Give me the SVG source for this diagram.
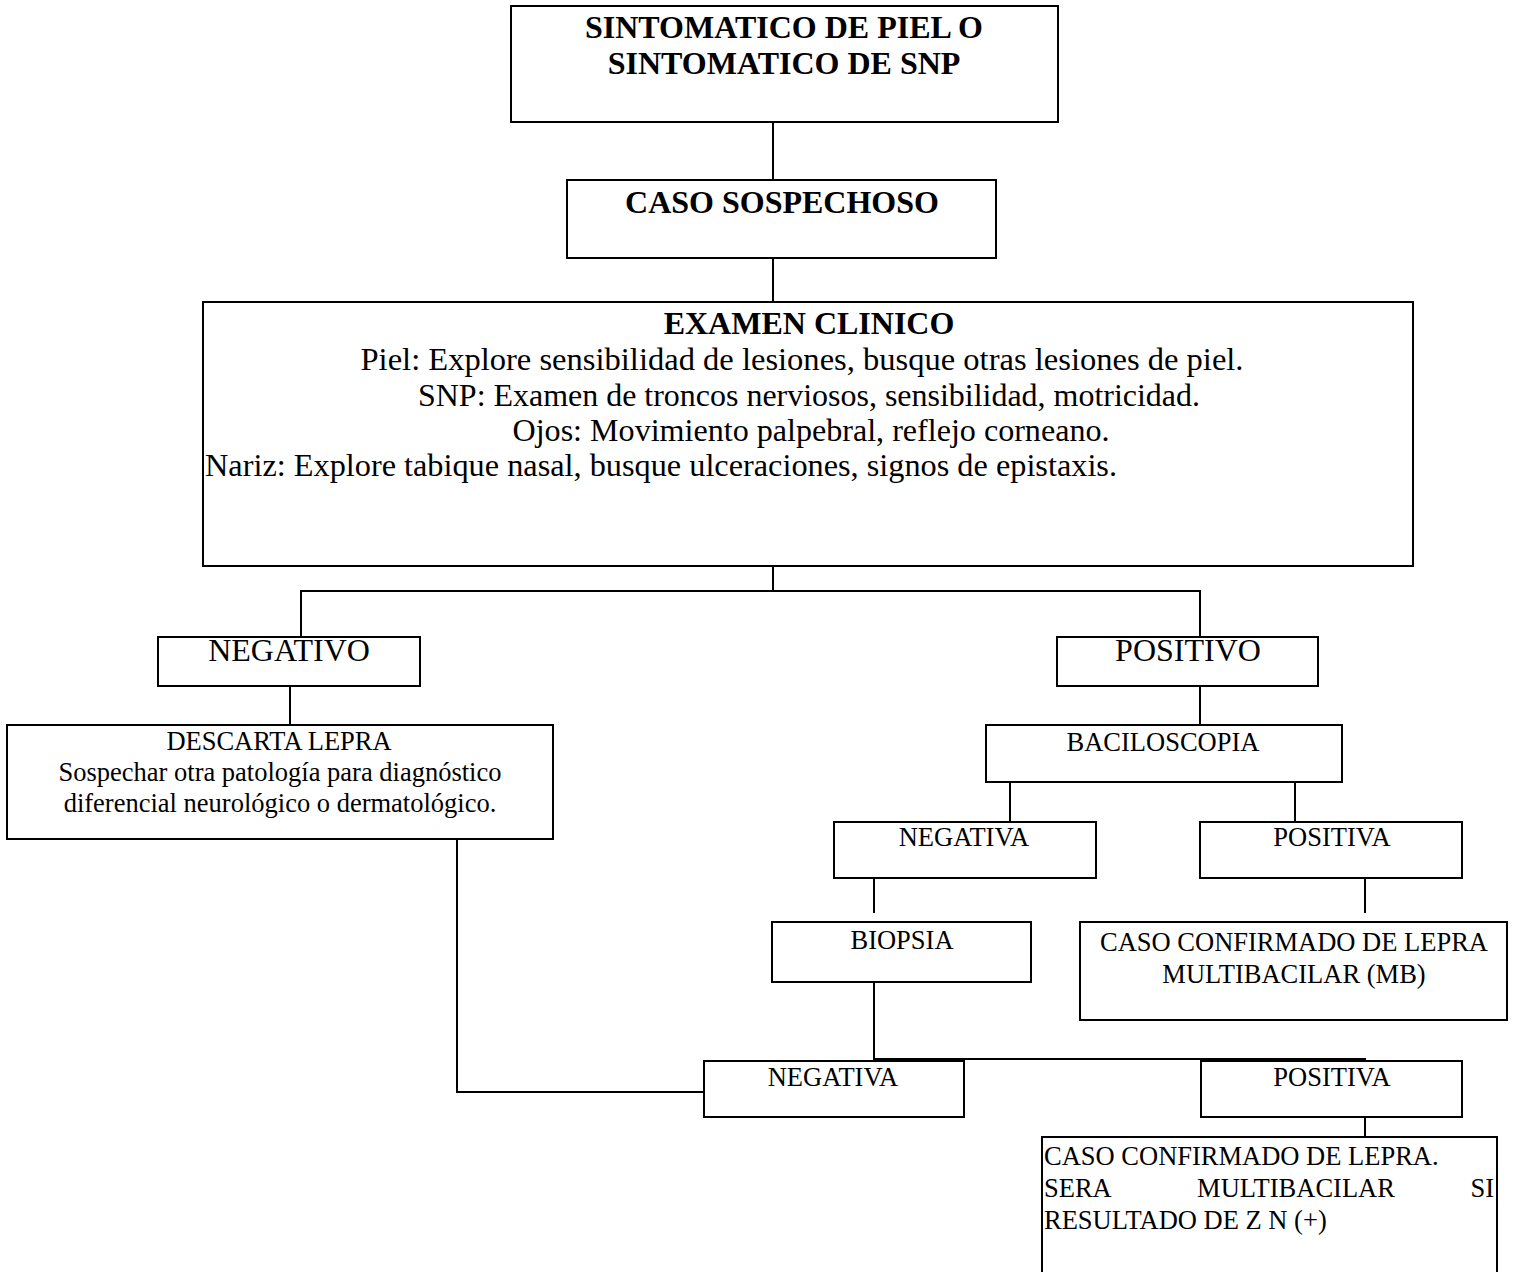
<svg xmlns="http://www.w3.org/2000/svg" width="1514" height="1272" viewBox="0 0 1514 1272">
  <style>
    .box { fill: #ffffff; stroke: #000000; stroke-width: 2; }
    .wire { fill: none; stroke: #000000; stroke-width: 2; }
    text { font-family: "Liberation Serif", "Times New Roman", serif; fill: #000000; }
    .big { font-size: 32px; font-weight: bold; text-anchor: middle; }
    .body { font-size: 32px; text-anchor: middle; }
    .lbl { font-size: 32px; text-anchor: middle; }
    .sm { font-size: 26.5px; text-anchor: middle; }
    .left { font-size: 26.5px; }
  </style>
  <rect width="1514" height="1272" fill="#ffffff"/>

  <!-- connectors -->
  <g id="connectors">
    <line class="wire" x1="773" y1="122" x2="773" y2="180"/>
    <line class="wire" x1="773" y1="258" x2="773" y2="302"/>
    <line class="wire" x1="773" y1="566" x2="773" y2="591"/>
    <polyline class="wire" points="301,637 301,591 1200,591 1200,637"/>
    <line class="wire" x1="290" y1="686" x2="290" y2="725"/>
    <line class="wire" x1="1200" y1="686" x2="1200" y2="725"/>
    <line class="wire" x1="1010" y1="782" x2="1010" y2="822"/>
    <line class="wire" x1="1295" y1="782" x2="1295" y2="822"/>
    <line class="wire" x1="874" y1="878" x2="874" y2="913"/>
    <line class="wire" x1="1365" y1="878" x2="1365" y2="913"/>
    <polyline class="wire" points="874,982 874,1059 1366,1059"/>
    <polyline class="wire" points="457,839 457,1092 704,1092"/>
    <line class="wire" x1="1365" y1="1117" x2="1365" y2="1137"/>
  </g>

  <g id="sintomatico">
    <rect class="box" x="511" y="6" width="547" height="116"/>
    <text class="big" x="784" y="38">SINTOMATICO DE PIEL O</text>
    <text class="big" x="784" y="74">SINTOMATICO DE SNP</text>
  </g>

  <g id="caso-sospechoso">
    <rect class="box" x="567" y="180" width="429" height="78"/>
    <text class="big" x="782" y="213">CASO SOSPECHOSO</text>
  </g>

  <g id="examen-clinico">
    <rect class="box" x="203" y="302" width="1210" height="264"/>
    <text class="big" x="809" y="334">EXAMEN CLINICO</text>
    <text class="body" x="802" y="370" textLength="883" lengthAdjust="spacingAndGlyphs">Piel: Explore sensibilidad de lesiones, busque otras lesiones de piel.</text>
    <text class="body" x="809" y="406" textLength="782" lengthAdjust="spacingAndGlyphs">SNP: Examen de troncos nerviosos, sensibilidad, motricidad.</text>
    <text class="body" x="811" y="441" textLength="597" lengthAdjust="spacingAndGlyphs">Ojos: Movimiento palpebral, reflejo corneano.</text>
    <text class="body" x="205" y="476" style="text-anchor:start" textLength="912" lengthAdjust="spacingAndGlyphs">Nariz: Explore tabique nasal, busque ulceraciones, signos de epistaxis.</text>
  </g>

  <g id="negativo">
    <rect class="box" x="158" y="637" width="262" height="49"/>
    <text class="lbl" x="289" y="661">NEGATIVO</text>
  </g>

  <g id="positivo">
    <rect class="box" x="1057" y="637" width="261" height="49"/>
    <text class="lbl" x="1188" y="661">POSITIVO</text>
  </g>

  <g id="descarta-lepra">
    <rect class="box" x="7" y="725" width="546" height="114"/>
    <text class="sm" x="279" y="750">DESCARTA LEPRA</text>
    <text class="sm" x="280" y="781">Sospechar otra patología para diagnóstico</text>
    <text class="sm" x="280" y="812">diferencial neurológico o dermatológico.</text>
  </g>

  <g id="baciloscopia">
    <rect class="box" x="986" y="725" width="356" height="57"/>
    <text class="sm" x="1163" y="751">BACILOSCOPIA</text>
  </g>

  <g id="baciloscopia-negativa">
    <rect class="box" x="834" y="822" width="262" height="56"/>
    <text class="sm" x="964" y="846">NEGATIVA</text>
  </g>

  <g id="baciloscopia-positiva">
    <rect class="box" x="1200" y="822" width="262" height="56"/>
    <text class="sm" x="1332" y="846">POSITIVA</text>
  </g>

  <g id="biopsia">
    <rect class="box" x="772" y="922" width="259" height="60"/>
    <text class="sm" x="902" y="949">BIOPSIA</text>
  </g>

  <g id="caso-mb">
    <rect class="box" x="1080" y="922" width="427" height="98"/>
    <text class="sm" x="1294" y="951">CASO CONFIRMADO DE LEPRA</text>
    <text class="sm" x="1294" y="983">MULTIBACILAR (MB)</text>
  </g>

  <g id="biopsia-negativa">
    <rect class="box" x="704" y="1061" width="260" height="56"/>
    <text class="sm" x="833" y="1086">NEGATIVA</text>
  </g>

  <g id="biopsia-positiva">
    <rect class="box" x="1201" y="1061" width="261" height="56"/>
    <text class="sm" x="1332" y="1086">POSITIVA</text>
  </g>

  <g id="caso-confirmado">
    <rect class="box" x="1042" y="1137" width="455" height="140"/>
    <text class="left" x="1044" y="1165">CASO CONFIRMADO DE LEPRA.</text>
    <text class="left" x="1044" y="1197">SERA</text>
    <text class="left" x="1296" y="1197" text-anchor="middle">MULTIBACILAR</text>
    <text class="left" x="1494" y="1197" text-anchor="end">SI</text>
    <text class="left" x="1044" y="1229">RESULTADO DE Z N (+)</text>
  </g>
</svg>
